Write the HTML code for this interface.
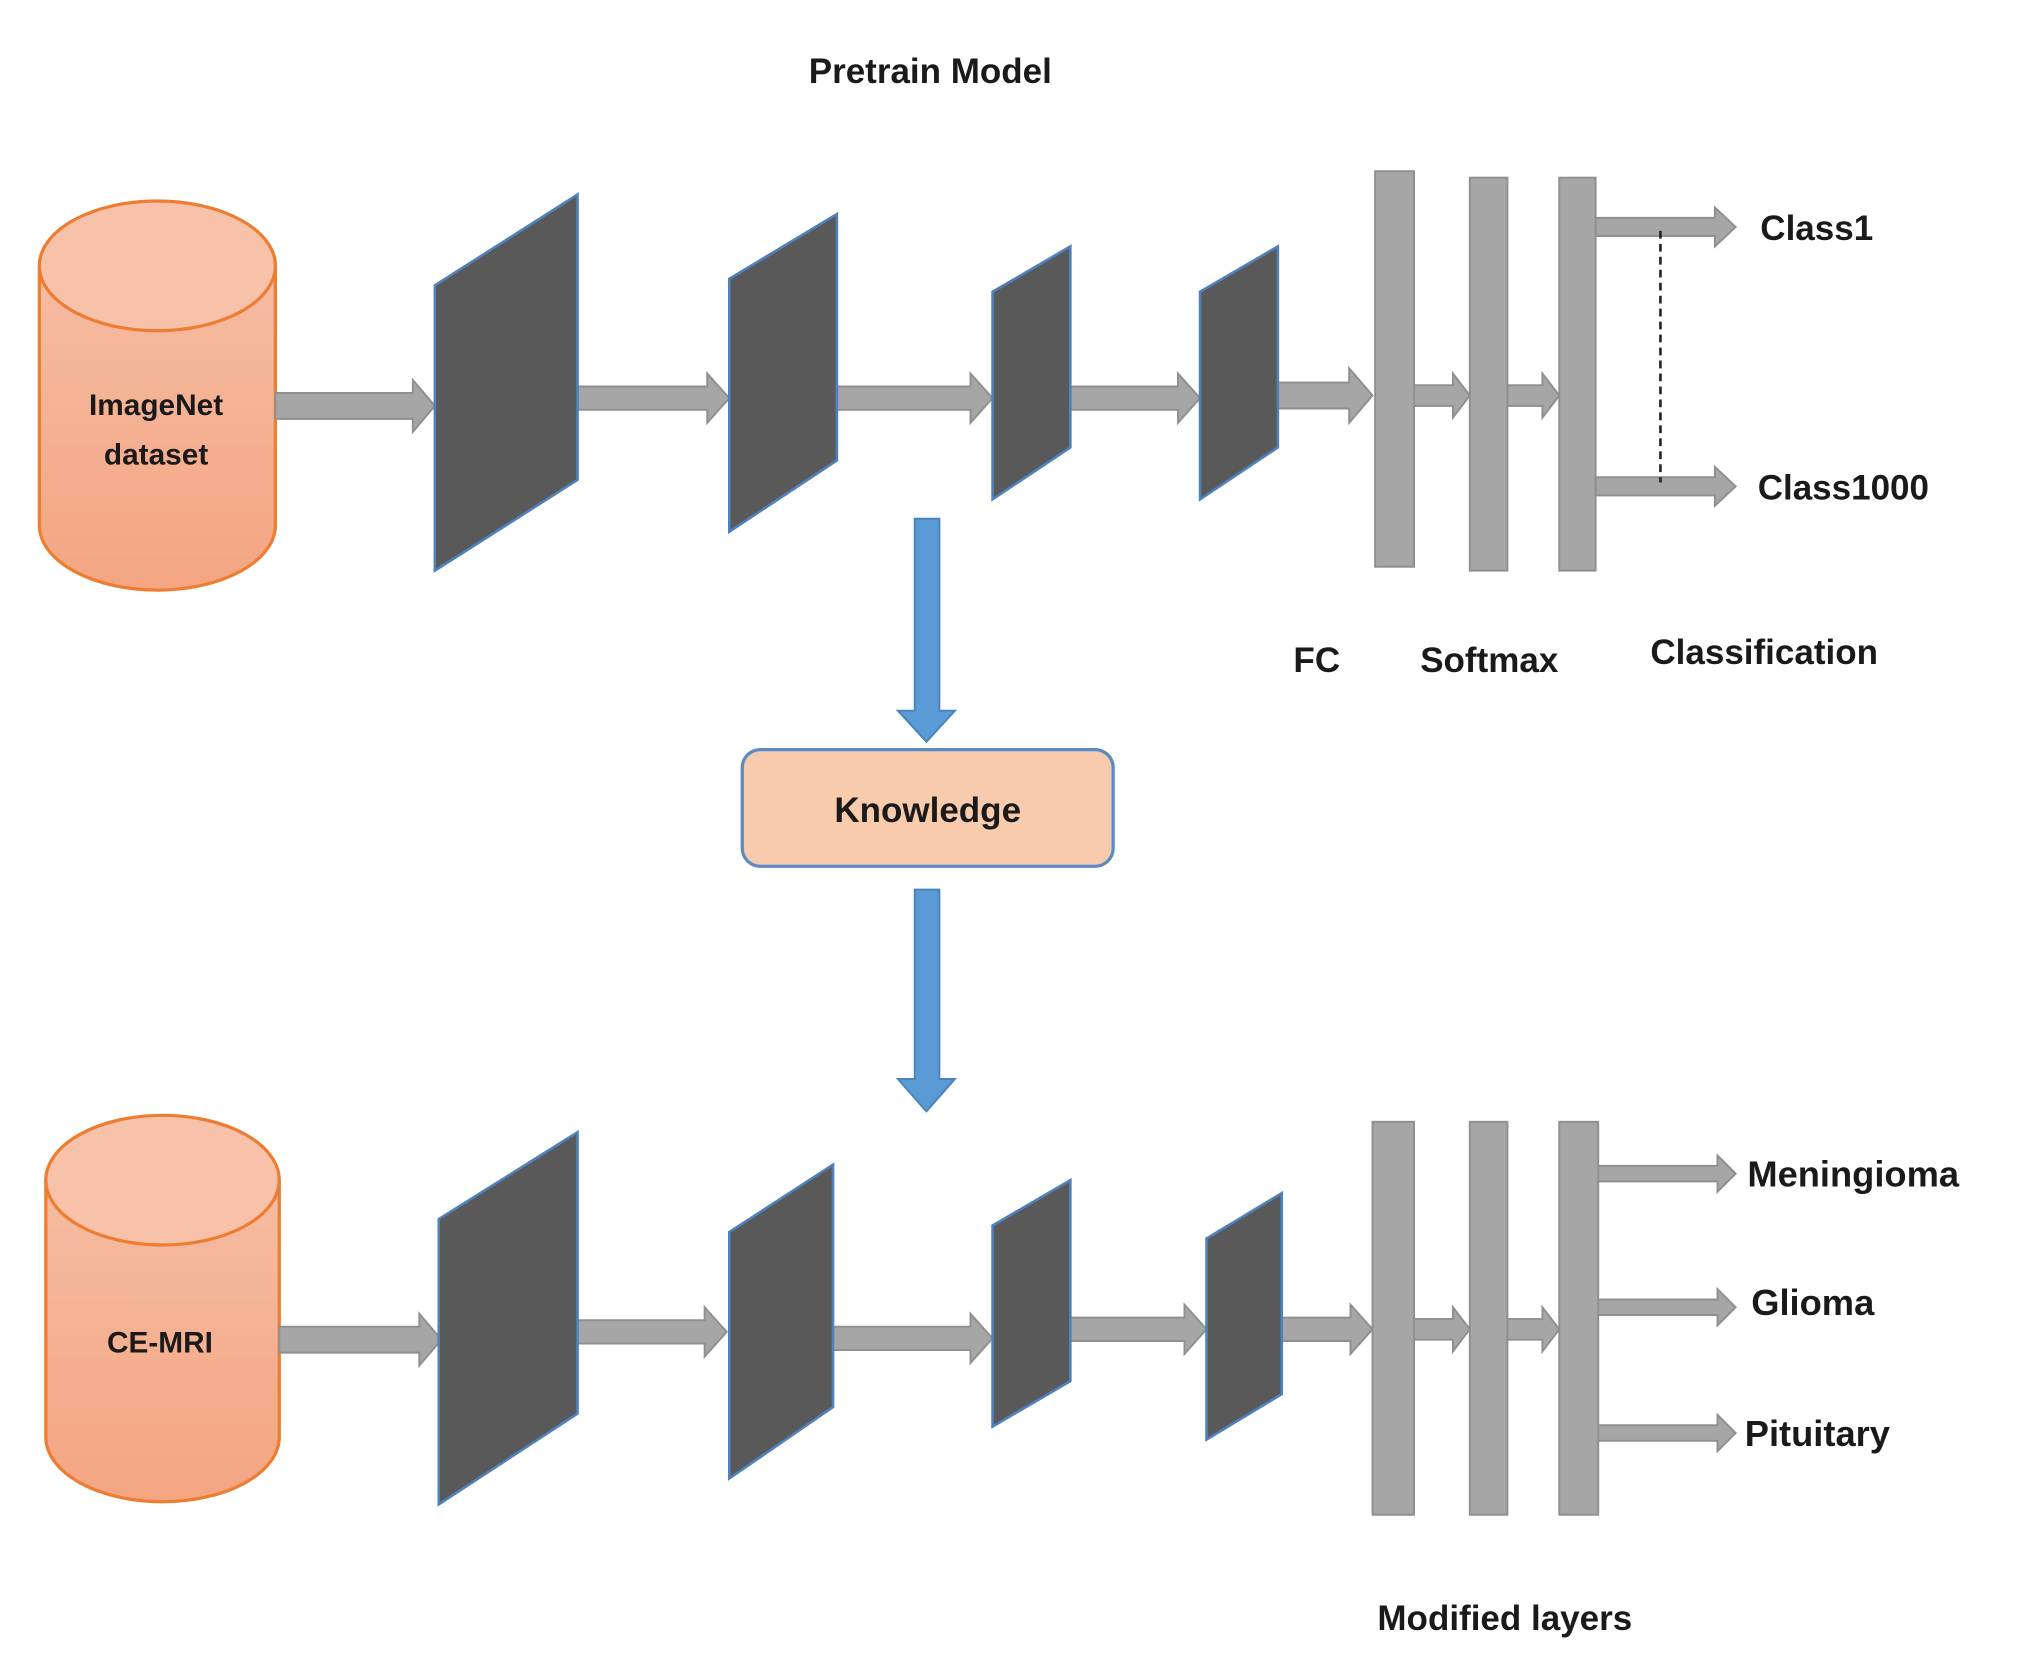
<!DOCTYPE html>
<html><head><meta charset="utf-8"><style>
html,body{margin:0;padding:0;background:#fff;}
svg{display:block;}
text{font-family:"Liberation Sans",sans-serif;font-weight:bold;fill:#1a1a1a;}
</style></head><body>
<svg width="2024" height="1660" viewBox="0 0 1560 1280" xmlns="http://www.w3.org/2000/svg">
<defs>
<linearGradient id="cyl" x1="0" y1="0" x2="0" y2="1">
<stop offset="0" stop-color="#f6bca2"/><stop offset="1" stop-color="#f4a582"/>
</linearGradient>
</defs>
<rect width="1560" height="1280" fill="#fff"/>
<text x="717" y="64" font-size="27" text-anchor="middle">Pretrain Model</text>

<path d="M30,205 L30,405 A91,50 0 0 0 212,405 L212,205" fill="url(#cyl)" stroke="#ed7d31" stroke-width="2.5"/>
<ellipse cx="121" cy="205" rx="91" ry="50" fill="#f7c2a9" stroke="#ed7d31" stroke-width="2.5"/>
<text x="120" y="320" font-size="23" text-anchor="middle">ImageNet</text>
<text x="120" y="358" font-size="23" text-anchor="middle">dataset</text>

<path d="M35,910 L35,1108 A90,50 0 0 0 215,1108 L215,910" fill="url(#cyl)" stroke="#ed7d31" stroke-width="2.5"/>
<ellipse cx="125" cy="910" rx="90" ry="50" fill="#f7c2a9" stroke="#ed7d31" stroke-width="2.5"/>
<text x="123" y="1043" font-size="23" text-anchor="middle">CE-MRI</text>

<g fill="#a6a6a6" stroke="#8f8f8f" stroke-width="1.5">
<polygon points="212,303 318,303 318,293 335,313 318,333 318,323 212,323"/>
<polygon points="445,298 545,298 545,288 562,307 545,326 545,316 445,316"/>
<polygon points="645,298 748,298 748,288 765,307 748,326 748,316 645,316"/>
<polygon points="825,298 908,298 908,288 925,307 908,326 908,316 825,316"/>
<polygon points="985,295 1040,295 1040,284 1058,305 1040,326 1040,315 985,315"/>
<polygon points="1090,297 1120,297 1120,288 1133,305 1120,322 1120,313 1090,313"/>
<polygon points="1162,297 1189,297 1189,288 1202,305 1189,322 1189,313 1162,313"/>
<polygon points="1230,168 1322,168 1322,160 1338,175 1322,190 1322,182 1230,182"/>
<polygon points="1230,368 1322,368 1322,360 1338,375 1322,390 1322,382 1230,382"/>
<polygon points="215,1023 323,1023 323,1013 340,1033 323,1053 323,1043 215,1043"/>
<polygon points="445,1018 543,1018 543,1008 560,1027 543,1046 543,1036 445,1036"/>
<polygon points="642,1023 748,1023 748,1013 765,1032 748,1051 748,1041 642,1041"/>
<polygon points="825,1016 913,1016 913,1006 930,1025 913,1044 913,1034 825,1034"/>
<polygon points="988,1016 1041,1016 1041,1006 1058,1025 1041,1044 1041,1034 988,1034"/>
<polygon points="1090,1017 1120,1017 1120,1008 1133,1025 1120,1042 1120,1033 1090,1033"/>
<polygon points="1162,1017 1189,1017 1189,1008 1202,1025 1189,1042 1189,1033 1162,1033"/>
<polygon points="1232,899 1324,899 1324,891 1338,905 1324,919 1324,911 1232,911"/>
<polygon points="1232,1002 1324,1002 1324,994 1338,1008 1324,1022 1324,1014 1232,1014"/>
<polygon points="1232,1099 1324,1099 1324,1091 1338,1105 1324,1119 1324,1111 1232,1111"/>
<rect x="1060" y="132" width="30" height="305"/>
<rect x="1133" y="137" width="29" height="303"/>
<rect x="1202" y="137" width="28" height="303"/>
<rect x="1058" y="865" width="32" height="303"/>
<rect x="1133" y="865" width="29" height="303"/>
<rect x="1202" y="865" width="30" height="303"/>
</g>
<line x1="1280" y1="178" x2="1280" y2="372" stroke="#222" stroke-width="2" stroke-dasharray="6,4"/>

<g fill="#595959" stroke="#4f81bd" stroke-width="2">
<polygon points="335,220 445,150 445,370 335,440"/>
<polygon points="562,215 645,165 645,355 562,410"/>
<polygon points="765,225 825,190 825,345 765,385"/>
<polygon points="925,225 985,190 985,345 925,385"/>
<polygon points="338,940 445,873 445,1090 338,1160"/>
<polygon points="562,950 642,898 642,1085 562,1140"/>
<polygon points="765,945 825,910 825,1065 765,1100"/>
<polygon points="930,955 988,920 988,1075 930,1110"/>
</g>

<text x="1357" y="185" font-size="27">Class1</text>
<text x="1355" y="385" font-size="27">Class1000</text>
<text x="1015" y="518" font-size="27" text-anchor="middle">FC</text>
<text x="1148" y="518" font-size="27" text-anchor="middle">Softmax</text>
<text x="1360" y="512" font-size="27" text-anchor="middle">Classification</text>
<text x="1347" y="915" font-size="28">Meningioma</text>
<text x="1350" y="1014" font-size="28">Glioma</text>
<text x="1345" y="1115" font-size="28">Pituitary</text>
<text x="1160" y="1257" font-size="27" text-anchor="middle">Modified layers</text>

<g fill="#5b9bd5" stroke="#4a84bd" stroke-width="1.5">
<polygon points="705,400 724,400 724,548 736,548 714,572 692,548 705,548"/>
<polygon points="705,686 724,686 724,832 736,832 714,857 692,832 705,832"/>
</g>
<rect x="572" y="578" width="286" height="90" rx="14" fill="#f8cbad" stroke="#5b8bc5" stroke-width="2.5"/>
<text x="715" y="634" font-size="27" text-anchor="middle">Knowledge</text>
</svg>
</body></html>
